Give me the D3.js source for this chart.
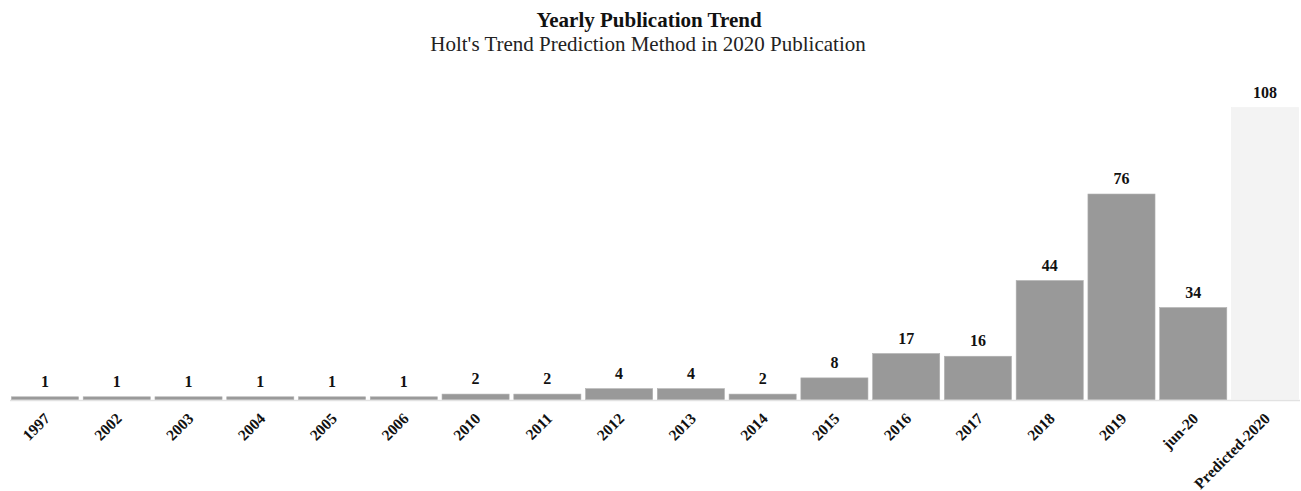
<!DOCTYPE html>
<html>
<head>
<meta charset="utf-8">
<script src="https://cdn.jsdelivr.net/npm/d3@7"></script>
<style>
  html, body { margin: 0; padding: 0; background: #fff; }
  svg { display: block; font-family: "Liberation Serif", "Times New Roman", serif; }
</style>
</head>
<body>
<svg id="chart" width="1301" height="491"></svg>
<script>
// Publications per year, with the Holt's trend forecast for 2020 as the last bar
const categories = ["1997", "2002", "2003", "2004", "2005", "2006", "2010", "2011", "2012", "2013", "2014", "2015", "2016", "2017", "2018", "2019", "jun-20", "Predicted-2020"];
const publications = [1, 1, 1, 1, 1, 1, 2, 2, 4, 4, 2, 8, 17, 16, 44, 76, 34, 108];
const predictedLabel = "Predicted-2020";

const titleText = "Yearly Publication Trend";
const subtitleText = "Holt's Trend Prediction Method in 2020 Publication";

const width = 1301, height = 491;
const baseline = 399.5;

const svg = d3.select("#chart");

const x = d3.scaleBand()
  .domain(categories)
  .range([10, 1300])
  .paddingInner(0.065)
  .paddingOuter(0.02);

const y = d3.scaleLinear()
  .domain([0, 108])
  .range([baseline, 107.5]);

// Titles
svg.append("text")
  .attr("x", 649).attr("y", 27)
  .attr("text-anchor", "middle")
  .attr("font-size", 21).attr("font-weight", "bold")
  .attr("fill", "#111")
  .text(titleText);

svg.append("text")
  .attr("x", 648).attr("y", 51)
  .attr("text-anchor", "middle")
  .attr("font-size", 21)
  .attr("fill", "#222")
  .text(subtitleText);

const data = categories.map((c, i) => ({ cat: c, value: publications[i] }));

// Baseline rule
svg.append("line")
  .attr("x1", 10).attr("x2", 1300)
  .attr("y1", baseline + 1).attr("y2", baseline + 1)
  .attr("stroke", "#e2e2e2").attr("stroke-width", 1.5);

// Bars
svg.append("g").selectAll("rect")
  .data(data)
  .join("rect")
  .attr("x", d => x(d.cat))
  .attr("width", x.bandwidth())
  .attr("y", d => y(d.value))
  .attr("height", d => baseline - y(d.value))
  .attr("fill", d => d.cat === predictedLabel ? "#f3f3f3" : "#999999")
  .attr("stroke", d => d.cat === predictedLabel ? "#f0f0f0" : "#b0b0b0")
  .attr("stroke-width", 0.6);

// Value labels
svg.append("g").selectAll("text")
  .data(data)
  .join("text")
  .attr("x", d => x(d.cat) + x.bandwidth() / 2)
  .attr("y", d => y(d.value) - 10)
  .attr("text-anchor", "middle")
  .attr("font-size", 16).attr("font-weight", "bold")
  .attr("fill", "#111")
  .text(d => d.value);

// Category axis with rotated labels
const xAxis = svg.append("g")
  .attr("transform", `translate(0,${baseline})`)
  .call(d3.axisBottom(x).tickSize(0).tickPadding(0));
xAxis.select(".domain").remove();
xAxis.selectAll("text")
  .attr("font-family", "Liberation Serif, Times New Roman, serif")
  .attr("font-size", 15.5).attr("font-weight", "bold")
  .attr("fill", "#111")
  .attr("text-anchor", "end")
  .attr("dy", 0)
  .attr("transform", "translate(6,20) rotate(-45)");
</script>
</body>
</html>
